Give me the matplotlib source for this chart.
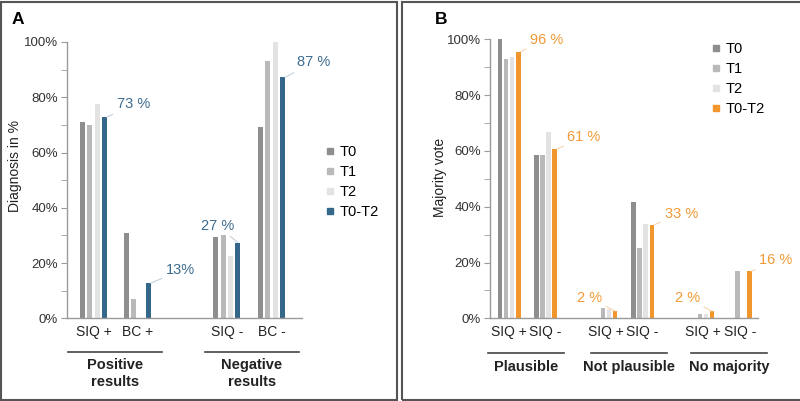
import matplotlib
matplotlib.use("Agg")
import matplotlib.pyplot as plt
from matplotlib.lines import Line2D
from matplotlib.patches import Rectangle
from matplotlib.ticker import MultipleLocator, PercentFormatter

plt.rcParams['font.family'] = ['Liberation Sans', 'DejaVu Sans']

series = ["T0", "T1", "T2", "T0-T2"]

# Panel A: diagnosis in %
a_categories = ["SIQ +", "BC +", "SIQ -", "BC -"]
a_groups = ["Positive\nresults", "Negative\nresults"]
a_t0 = [70.9, 31.0, 29.3, 69.1]
a_t1 = [70.0, 6.9, 30.2, 93.2]
a_t2 = [77.5, 0.0, 22.6, 100.0]
a_t0t2 = [72.8, 12.7, 27.4, 87.2]
a_labels = ["73 %", "13%", "27 %", "87 %"]

# Panel B: majority vote
b_categories = ["SIQ +", "SIQ -", "SIQ +", "SIQ -", "SIQ +", "SIQ -"]
b_groups = ["Plausible", "Not plausible", "No majority"]
b_t0 = [100.0, 58.4, 0.0, 41.8, 0.0, 0.0]
b_t1 = [92.8, 58.4, 3.8, 25.3, 1.4, 16.9]
b_t2 = [93.5, 66.7, 3.4, 33.7, 1.4, 0.0]
b_t0t2 = [95.6, 60.7, 2.6, 33.5, 2.5, 16.9]
b_labels = ["96 %", "61 %", "2 %", "33 %", "2 %", "16 %"]

W, H = 800, 401
GREYS = ["#8e8e8e", "#b9b9b9", "#e3e3e3"]
BORDER = "#555555"
AXIS = "#9a9a9a"


def fig_box(x0, y0, x1, y1):
    # pixel box -> figure fraction
    return [x0 / W, 1 - y1 / H, (x1 - x0) / W, (y1 - y0) / H]


def draw_panel(ax, values, cats, starts, xlim, width, accent, label_color, leader_color,
               labels, label_offsets, groups, group_centers, group_half, line_y, text_y):
    for i, vals in enumerate(values):
        color = GREYS[i] if i < 3 else accent
        xs = [s + i for s in starts]
        ax.bar(xs, vals, width=width, color=color, zorder=2)
    # value labels on the combined series
    for s, v, lab, (dx, dy, ha) in zip(starts, values[3], labels, label_offsets):
        ax.annotate(lab, xy=(s + 3 + (width / 2 if ha == 'left' else 0), v),
                    xytext=(dx * 0.72, dy * 0.72), textcoords='offset points',
                    ha=ha, va='center', fontsize=10.5, color=label_color,
                    arrowprops=dict(arrowstyle='-', color=leader_color, lw=0.8,
                                    shrinkA=1, shrinkB=0))
    ax.set_xlim(*xlim)
    ax.set_ylim(0, 100)
    ax.set_xticks([s + 1.5 for s in starts])
    ax.set_xticklabels(cats, fontsize=10, color="#222222")
    ax.tick_params(axis='x', length=0, pad=4.5)
    ax.yaxis.set_major_locator(MultipleLocator(20))
    ax.yaxis.set_minor_locator(MultipleLocator(10))
    ax.yaxis.set_major_formatter(PercentFormatter(decimals=0))
    ax.tick_params(axis='y', which='both', length=4, color=AXIS, labelsize=9.5,
                   labelcolor="#333333", pad=2.5)
    for side in ['top', 'right']:
        ax.spines[side].set_visible(False)
    for side in ['left', 'bottom']:
        ax.spines[side].set_color(AXIS)
        ax.spines[side].set_linewidth(1.0)
    tr = ax.get_xaxis_transform()
    for g, c in zip(groups, group_centers):
        ax.plot([c - group_half, c + group_half], [line_y, line_y], color="#444444",
                lw=1.2, transform=tr, clip_on=False)
        ax.text(c, text_y, g, transform=tr, ha='center', va='center', fontsize=10.5,
                fontweight='bold', linespacing=1.2, color="#222222")


fig = plt.figure(figsize=(8, 4.01), dpi=100)

# panel frames
fig.patches.append(Rectangle((1 / W, 1 / H), 396 / W, 398 / H, transform=fig.transFigure,
                             fill=False, edgecolor=BORDER, lw=1.5))
fig.patches.append(Rectangle((402 / W, 1 / H), 420 / W, 398 / H, transform=fig.transFigure,
                             fill=False, edgecolor=BORDER, lw=1.5))

# Panel A
ax_a = fig.add_axes(fig_box(67, 42, 302, 318.3))
draw_panel(ax_a, [a_t0, a_t1, a_t2, a_t0t2], a_categories,
           starts=[2.1, 8.1, 20.3, 26.4], xlim=(0, 32.06), width=0.68,
           accent="#35678b", label_color="#3d6c91", leader_color="#c3d1dc",
           labels=a_labels,
           label_offsets=[(10, 13, 'left'), (15, 13, 'left'), (-4, 17, 'right'), (12, 15, 'left')],
           groups=a_groups, group_centers=[6.6, 25.2], group_half=6.4,
           line_y=-0.122, text_y=-0.2)
fig.text(15 / W, 1 - 166 / H, "Diagnosis in %", rotation=90, ha='center', va='center',
         fontsize=10, color="#222222")
fig.text(18 / W, 1 - 20 / H, "A", ha='center', va='center', fontsize=12.5, fontweight='bold')

handles_a = [Line2D([], [], marker='s', linestyle='none', markersize=5,
                    color=c) for c in GREYS + ["#35678b"]]
fig.legend(handles_a, series, loc='upper left', bbox_to_anchor=(326 / W, 1 - 145 / H),
           frameon=False, fontsize=10.5, handlelength=0.6, handletextpad=0.3,
           labelspacing=0.42, borderpad=0, borderaxespad=0)

# Panel B
ax_b = fig.add_axes(fig_box(490, 39.3, 758, 318.3))
draw_panel(ax_b, [b_t0, b_t1, b_t2, b_t0t2], b_categories,
           starts=[1.64, 7.6, 17.5, 23.5, 33.4, 39.5], xlim=(0, 43.9), width=0.74,
           accent="#f0962c", label_color="#f29a36", leader_color="#f8d6ae",
           labels=b_labels,
           label_offsets=[(9.5, 12, 'left'), (10.5, 12, 'left'), (-13, 13, 'right'),
                          (10.5, 11, 'left'), (-12.5, 13, 'right'), (7.5, 11, 'left')],
           groups=b_groups, group_centers=[5.9, 22.75, 39.2], group_half=6.2,
           line_y=-0.124, text_y=-0.175)
fig.text(440 / W, 1 - 177 / H, "Majority vote", rotation=90, ha='center', va='center',
         fontsize=10, color="#222222")
fig.text(441 / W, 1 - 20 / H, "B", ha='center', va='center', fontsize=12.5, fontweight='bold')

handles_b = [Line2D([], [], marker='s', linestyle='none', markersize=5,
                    color=c) for c in GREYS + ["#f0962c"]]
fig.legend(handles_b, series, loc='upper left', bbox_to_anchor=(712 / W, 1 - 42 / H),
           frameon=False, fontsize=10.5, handlelength=0.6, handletextpad=0.3,
           labelspacing=0.42, borderpad=0, borderaxespad=0)

fig.savefig("out.png", dpi=100)
